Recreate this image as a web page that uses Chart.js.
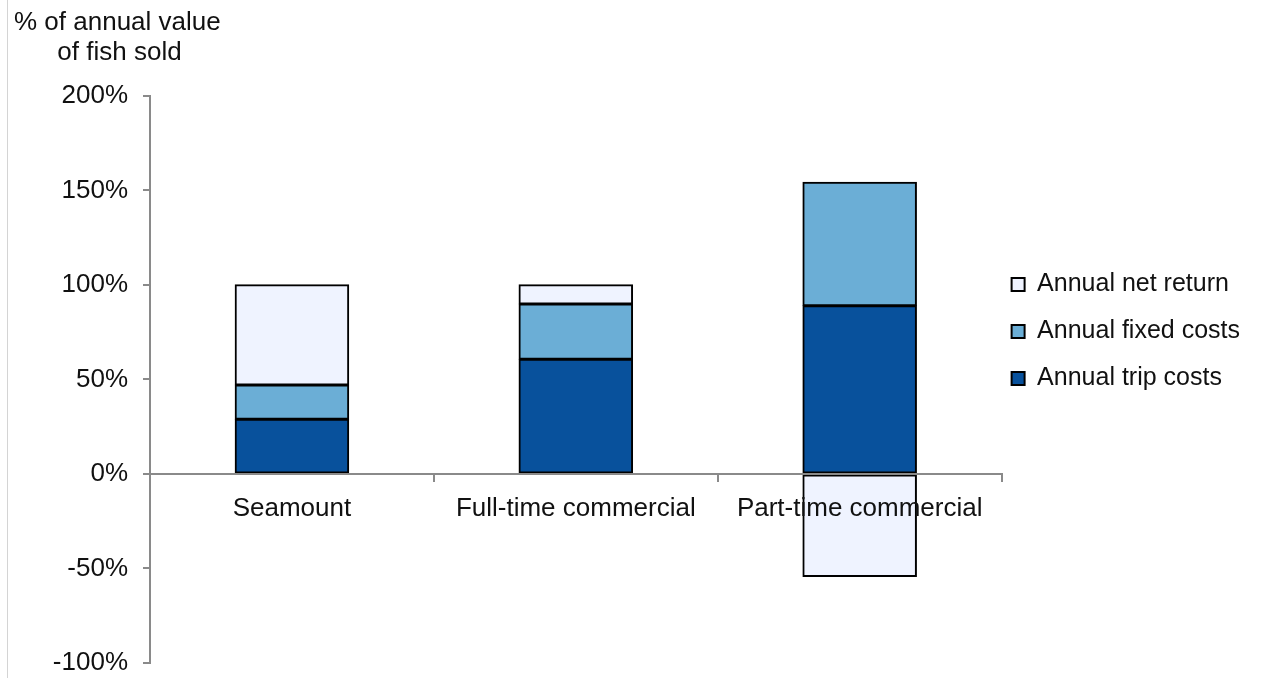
<!DOCTYPE html>
<html>
<head>
<meta charset="utf-8">
<script src="https://cdn.jsdelivr.net/npm/chart.js@4"></script>
<style>
    body { margin: 0; background: #fff; }
    #wrap { position: relative; width: 1262px; height: 678px; }
    #edge { position: absolute; left: 7px; top: 0; width: 1px; height: 678px; background: #d4d4d4; }
</style>
</head>
<body>
<div id="wrap">
    <div id="edge"></div>
    <canvas id="costChart" width="1262" height="678"></canvas>
</div>
<script>
// Cost structure of fishing fleets, % of annual value of fish sold

const categories = ['Seamount', 'Full-time commercial', 'Part-time commercial'];
const tripCosts = [28.9, 60.7, 89.0];
const fixedCosts = [18.2, 29.2, 65.3];
const netReturn = [52.9, 10.1, -54.3];
const yTicks = [-100, -50, 0, 50, 100, 150, 200];

const axisGrey = '#8a8a8a';

// pulls the legend a little closer to the plot area and up a bit
const legendNudge = {
    id: 'legendNudge',
    afterLayout: function(chart) {
        if (chart.legend) {
            chart.legend.left -= 12;
            chart.legend.bottom -= 15;
        }
    }
};

function createCostChart() {
    const ctx = document.getElementById('costChart').getContext('2d');

    new Chart(ctx, {
        type: 'bar',
        data: {
            labels: categories,
            datasets: [
                {
                    label: 'Annual trip costs',
                    data: tripCosts,
                    backgroundColor: '#08519c',
                    borderColor: '#000',
                    borderWidth: 2,
                    borderSkipped: false,
                    inflateAmount: 0.5
                },
                {
                    label: 'Annual fixed costs',
                    data: fixedCosts,
                    backgroundColor: '#6baed6',
                    borderColor: '#000',
                    borderWidth: 2,
                    borderSkipped: false,
                    inflateAmount: 0.5
                },
                {
                    label: 'Annual net return',
                    data: netReturn,
                    backgroundColor: '#eff3ff',
                    borderColor: '#000',
                    borderWidth: 2,
                    borderSkipped: false,
                    inflateAmount: 0.5
                }
            ]
        },
        options: {
            responsive: false,
            animation: false,
            categoryPercentage: 1,
            barPercentage: 0.4,
            layout: { padding: { left: 14, right: 0, top: 0, bottom: 0 } },
            plugins: {
                title: {
                    display: true,
                    text: ['% of annual value', '      of fish sold'],
                    align: 'start',
                    color: '#111',
                    font: { family: 'Liberation Sans, Arial, sans-serif', size: 26, weight: 'normal', lineHeight: 1.15 },
                    padding: { top: 8, bottom: 28 }
                },
                legend: {
                    display: true,
                    position: 'right',
                    reverse: true,
                    labels: {
                        color: '#111',
                        boxWidth: 13,
                        boxHeight: 13,
                        padding: 22,
                        font: { family: 'Liberation Sans, Arial, sans-serif', size: 25 }
                    }
                },
                tooltip: { enabled: false }
            },
            scales: {
                x: {
                    stacked: true,
                    position: { y: 0 },
                    grid: {
                        drawOnChartArea: false,
                        drawTicks: true,
                        tickLength: 7,
                        color: axisGrey,
                        lineWidth: 2,
                        z: 1
                    },
                    border: { display: true, color: axisGrey, width: 2, z: 1 },
                    ticks: {
                        color: '#111',
                        padding: 12,
                        maxRotation: 0,
                        z: 1,
                        font: { family: 'Liberation Sans, Arial, sans-serif', size: 26 }
                    }
                },
                y: {
                    stacked: true,
                    min: -100,
                    max: 200,
                    afterFit: function(scale) {
                        scale.width = 136;
                        scale.paddingBottom = 15;
                    },
                    afterBuildTicks: function(scale) {
                        scale.ticks = yTicks.map(function(v) { return { value: v }; });
                    },
                    grid: {
                        drawOnChartArea: false,
                        drawTicks: true,
                        tickLength: 7,
                        color: axisGrey,
                        lineWidth: 2
                    },
                    border: { display: true, color: axisGrey, width: 2 },
                    ticks: {
                        color: '#111',
                        padding: 15,
                        font: { family: 'Liberation Sans, Arial, sans-serif', size: 26 },
                        callback: function(value) { return value + '%'; }
                    }
                }
            }
        },
        plugins: [legendNudge]
    });
}

createCostChart();
</script>
</body>
</html>
